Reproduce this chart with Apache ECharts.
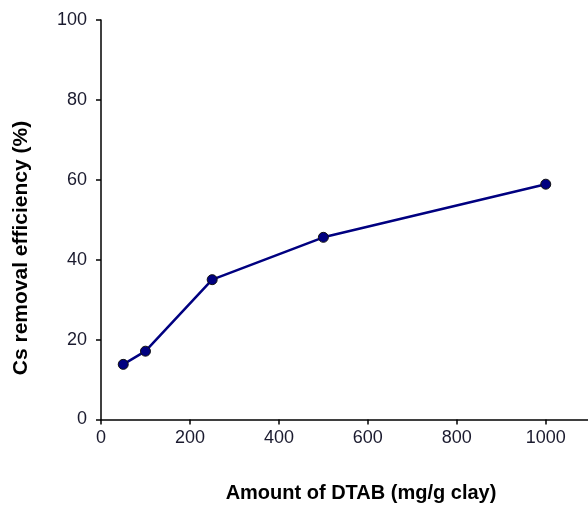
<!DOCTYPE html>
<html>
<head>
<meta charset="utf-8">
<script src="https://cdn.jsdelivr.net/npm/echarts@6/dist/echarts.min.js"></script>
<style>html,body{margin:0;padding:0;background:#fff;}#c{width:588px;height:505px;}</style>
</head>
<body>
<div id="c"></div>
<script>
var dtabAmount = [50, 100, 250, 500, 1000];
var csRemoval = [13.8, 17.1, 35.0, 45.6, 58.9];
var xTicks = [0, 200, 400, 600, 800, 1000];
var yTicks = [0, 20, 40, 60, 80, 100];
var xTitle = 'Amount of DTAB (mg/g clay)';
var yTitle = 'Cs removal efficiency (%)';

var chart = echarts.init(document.getElementById('c'));
var font = '"Liberation Sans", Arial, sans-serif';
chart.setOption({
  animation: false,
  backgroundColor: '#ffffff',
  grid: {left: 101, top: 20, right: 0, bottom: 85.5, containLabel: false},
  xAxis: {
    type: 'value', min: 0, max: 1095,
    axisLine: {show: true, lineStyle: {color: '#000', width: 1.5}},
    axisTick: {show: true, inside: false, length: 5, customValues: xTicks, lineStyle: {color: '#000', width: 1.5}},
    axisLabel: {margin: 10, fontFamily: font, fontSize: 18, color: '#1a1a2e', customValues: xTicks,
      formatter: function (v) { return String(v); }},
    splitLine: {show: false}
  },
  yAxis: {
    type: 'value', min: 0, max: 100, interval: 20,
    axisLine: {show: true, lineStyle: {color: '#000', width: 1.5}},
    axisTick: {show: true, inside: false, length: 5, customValues: yTicks, lineStyle: {color: '#000', width: 1.5}},
    axisLabel: {margin: 14, fontFamily: font, fontSize: 18, color: '#1a1a2e', customValues: yTicks,
      formatter: function (v) { return String(v); }},
    splitLine: {show: false}
  },
  graphic: [
    {type: 'text', x: 361, y: 493,
     style: {text: xTitle, align: 'center', verticalAlign: 'middle',
             font: 'bold 20px ' + font, fill: '#000'}},
    {type: 'text', x: 21, y: 248, rotation: Math.PI / 2,
     style: {text: yTitle, align: 'center', verticalAlign: 'middle',
             font: 'bold 21px ' + font, fill: '#000'}}
  ],
  series: [{
    type: 'line',
    data: dtabAmount.map(function (x, i) { return [x, csRemoval[i]]; }),
    lineStyle: {color: '#000080', width: 2.5},
    itemStyle: {color: '#000080', borderColor: '#111', borderWidth: 1},
    symbol: 'circle', symbolSize: 10, showSymbol: true
  }]
});
</script>
</body>
</html>
